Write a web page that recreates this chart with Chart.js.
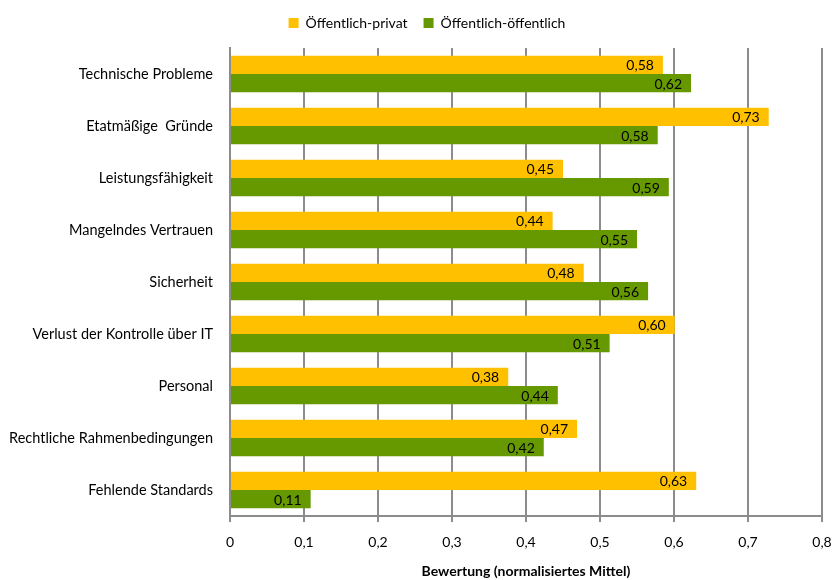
<!DOCTYPE html>
<html>
<head>
<meta charset="utf-8">
<script src="https://cdn.jsdelivr.net/npm/chart.js@4"></script>
<style>
  body { margin: 0; background: #fff; }
  #wrap { width: 834px; height: 580px; }
</style>
</head>
<body>
<div id="wrap"><canvas id="chart"></canvas></div>
<script>
// data
const categories = [
    "Technische Probleme",
    "Etatmäßige  Gründe",
    "Leistungsfähigkeit",
    "Mangelndes Vertrauen",
    "Sicherheit",
    "Verlust der Kontrolle über IT",
    "Personal",
    "Rechtliche Rahmenbedingungen",
    "Fehlende Standards"
];
const privatValues = [0.585, 0.728, 0.45, 0.436, 0.478, 0.601, 0.376, 0.469, 0.63];
const oeffentlichValues = [0.623, 0.578, 0.593, 0.55, 0.565, 0.513, 0.443, 0.424, 0.109];
const tickLabels = ["0", "0,1", "0,2", "0,3", "0,4", "0,5", "0,6", "0,7", "0,8"];

const FONT = "Lato, 'Open Sans', sans-serif";

// value labels inside the bar end
const barLabels = {
    id: "barLabels",
    afterDatasetsDraw(chart) {
        const ctx = chart.ctx;
        ctx.save();
        ctx.font = "14px " + FONT;
        ctx.fillStyle = "#000";
        ctx.textAlign = "right";
        ctx.textBaseline = "middle";
        chart.data.datasets.forEach((ds, i) => {
            chart.getDatasetMeta(i).data.forEach((bar, j) => {
                const txt = ds.data[j].toFixed(2).replace(".", ",");
                ctx.fillText(txt, bar.x - 9, bar.y + 1);
            });
        });
        ctx.restore();
    }
};

// more room under the legend, and nudge it right a little
const legendGap = {
    id: "legendGap",
    beforeInit(chart) {
        const fit = chart.legend.fit;
        chart.legend.fit = function () {
            fit.bind(chart.legend)();
            this.height += 8;
        };
    },
    afterLayout(chart) {
        chart.legend.left += 16;
        chart.legend.right += 16;
    }
};

new Chart(document.getElementById("chart"), {
    type: "bar",
    data: {
        labels: categories,
        datasets: [
            { label: "Öffentlich-privat", data: privatValues, backgroundColor: "#FFC000" },
            { label: "Öffentlich-öffentlich", data: oeffentlichValues, backgroundColor: "#669900" }
        ]
    },
    options: {
        indexAxis: "y",
        responsive: true,
        maintainAspectRatio: false,
        animation: false,
        categoryPercentage: 0.7,
        barPercentage: 1.0,
        layout: { padding: { top: 0, right: 12, bottom: 0, left: 0 } },
        plugins: {
            legend: {
                position: "top",
                labels: {
                    font: { family: FONT, size: 14 },
                    color: "#000",
                    boxWidth: 10,
                    boxHeight: 10,
                    padding: 16
                }
            },
            tooltip: { enabled: false }
        },
        scales: {
            x: {
                min: 0,
                max: 0.8,
                ticks: {
                    stepSize: 0.1,
                    padding: 12,
                    color: "#000",
                    font: { family: FONT, size: 14 },
                    callback: (v, i) => tickLabels[i]
                },
                grid: {
                    color: "#8c8c8c",
                    lineWidth: 2,
                    tickLength: 6,
                    drawTicks: true
                },
                border: { color: "#8c8c8c", width: 2 },
                title: {
                    display: true,
                    text: "Bewertung (normalisiertes Mittel)",
                    color: "#000",
                    font: { family: FONT, size: 14, weight: "bold" },
                    padding: { top: 4, bottom: 0 }
                },
                afterFit(scale) {
                    scale.height = 64;
                    scale.paddingRight = 0;
                }
            },
            y: {
                ticks: {
                    color: "#000",
                    padding: 9,
                    font: { family: FONT, size: 14.5 }
                },
                grid: { display: false },
                border: { color: "#8c8c8c", width: 2 },
                afterFit(scale) { scale.width = 230; }
            }
        }
    },
    plugins: [barLabels, legendGap]
});
</script>
</body>
</html>
